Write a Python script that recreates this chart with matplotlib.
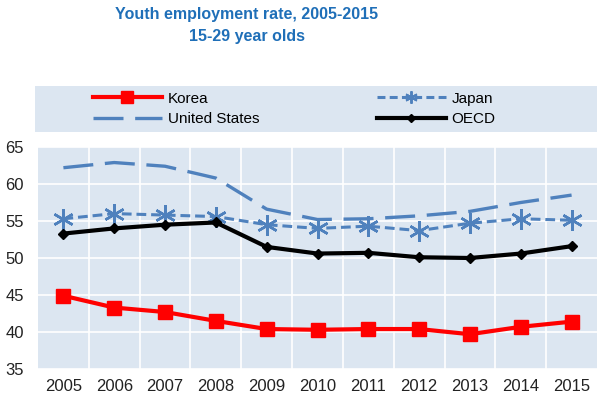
import matplotlib
matplotlib.use('Agg')
import matplotlib.pyplot as plt
from matplotlib.lines import Line2D

plt.rcParams['font.family'] = ['Liberation Sans Narrow', 'Liberation Sans', 'DejaVu Sans']

# Values
years = [2005, 2006, 2007, 2008, 2009, 2010, 2011, 2012, 2013, 2014, 2015]
korea = [44.9, 43.3, 42.7, 41.5, 40.4, 40.3, 40.4, 40.4, 39.7, 40.7, 41.4]
japan = [55.3, 56.0, 55.8, 55.6, 54.5, 54.0, 54.3, 53.7, 54.7, 55.3, 55.1]
usa = [62.2, 62.9, 62.4, 60.8, 56.6, 55.2, 55.3, 55.7, 56.3, 57.5, 58.5]
oecd = [53.3, 54.0, 54.5, 54.8, 51.5, 50.6, 50.7, 50.1, 50.0, 50.6, 51.6]
yticks = [35, 40, 45, 50, 55, 60, 65]

bg = '#DCE6F1'
blue = '#4F81BD'

fig = plt.figure(figsize=(6, 3.99), dpi=100)
ax = fig.add_axes([38 / 600, 1 - 369 / 399, 559 / 600, 222 / 399])
ax.set_facecolor(bg)

x = list(range(len(years)))
asterisk = (6, 2, 0)

ax.plot(x, usa, color=blue, lw=2.4, dashes=(9, 3.5), label='United States', zorder=3)
ax.plot(x, japan, color=blue, lw=2.2, dashes=(3.2, 1.6), marker=asterisk, ms=15,
        mew=1.8, label='Japan', zorder=4)
ax.plot(x, oecd, color='black', lw=3, marker='D', ms=5, label='OECD', zorder=5)
ax.plot(x, korea, color='#FF0000', lw=3, marker='s', ms=10, label='Korea', zorder=6)

ax.set_xlim(-0.5, len(years) - 0.5)
ax.set_ylim(35, 65)
ax.set_yticks(yticks)
ax.set_xticks(x)
ax.set_xticklabels([str(y) for y in years])
ax.set_xticks([i + 0.5 for i in x[:-1]], minor=True)
ax.grid(True, which='major', axis='y', color='white', lw=1.2)
ax.grid(True, which='minor', axis='x', color='white', lw=1.2)
ax.set_axisbelow(True)
ax.tick_params(which='both', length=0, labelsize=12, colors='#222222')
ax.tick_params(axis='x', pad=7)
ax.tick_params(axis='y', pad=10)
for s in ax.spines.values():
    s.set_visible(False)

# Legend panel
lax = fig.add_axes([35 / 600, 1 - 132 / 399, 562 / 600, 46 / 399])
lax.set_facecolor(bg)
lax.set_xticks([])
lax.set_yticks([])
for s in lax.spines.values():
    s.set_visible(False)

handles = [
    Line2D([], [], color='#FF0000', lw=3, marker='s', ms=9),
    Line2D([], [], color=blue, lw=2.4, dashes=(9, 3.5)),
    Line2D([], [], color=blue, lw=2.2, dashes=(2.6, 1.4), marker=asterisk, ms=9, mew=1.4),
    Line2D([], [], color='black', lw=3, marker='D', ms=4),
]
labels = ['Korea', 'United States', 'Japan', 'OECD']
lax.legend(handles, labels, ncol=2, loc='center left', bbox_to_anchor=(0.103, 0.5),
           frameon=False, fontsize=11, handlelength=4.5, handletextpad=0.4,
           columnspacing=7.7, borderpad=0, borderaxespad=0, labelspacing=0.45)

fig.text(247 / 600, 1 - 14 / 399, 'Youth employment rate, 2005-2015', ha='center', va='center',
         fontsize=11.5, fontweight='bold', color='#1F6FB8')
fig.text(247 / 600, 1 - 36 / 399, '15-29 year olds', ha='center', va='center',
         fontsize=11.5, fontweight='bold', color='#1F6FB8')

fig.savefig('out.png', dpi=100)
